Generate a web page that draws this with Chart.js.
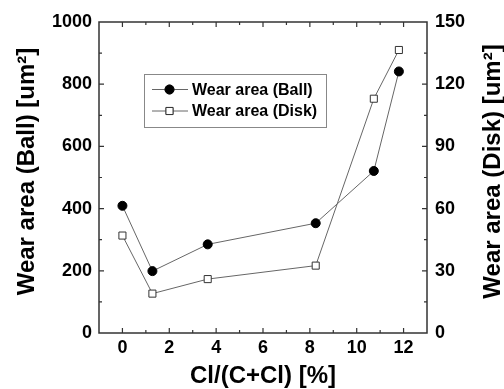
<!DOCTYPE html>
<html>
<head>
<meta charset="utf-8">
<script src="https://cdn.jsdelivr.net/npm/chart.js@4/dist/chart.umd.min.js"></script>
<style>
html,body{margin:0;padding:0;background:#ffffff;}
#wrap{position:relative;width:504px;height:389px;}
</style>
</head>
<body>
<div id="wrap"><canvas id="c" width="504" height="389"></canvas></div>
<script>
// Data
const clRatio = [0, 1.28, 3.64, 8.25, 10.73, 11.8];
const ballArea = [409, 199, 285, 353, 521, 841];
const diskArea = [47, 19, 26, 32.5, 113, 136.5];
const seriesNames = ['Wear area (Ball)', 'Wear area (Disk)'];
const xTitle = 'Cl/(C+Cl) [%]';
const yTitle = 'Wear area (Ball) [um\u00B2]';
const y2Title = 'Wear area (Disk) [um\u00B2]';

const FONT = "'Liberation Sans', Arial, sans-serif";
const LINE = '#666666';
const AXIS = '#333333';

function pts(xs, ys){ return xs.map((x,i)=>({x:x,y:ys[i]})); }

function verticalTitle(ctx, text, x, y){
  ctx.save();
  ctx.translate(x, y);
  ctx.rotate(-Math.PI / 2);
  ctx.font = 'bold 24px ' + FONT;
  ctx.fillStyle = '#000';
  ctx.textAlign = 'center';
  ctx.textBaseline = 'middle';
  ctx.fillText(text, 0, 0);
  ctx.restore();
}

const framePlugin = {
  id: 'frame',
  afterDraw(chart){
    const ctx = chart.ctx, a = chart.chartArea;
    const sx = chart.scales.x, sy = chart.scales.y, sy2 = chart.scales.y2;
    ctx.save();
    ctx.strokeStyle = AXIS;
    ctx.lineWidth = 1.5;
    ctx.strokeRect(a.left, a.top, a.right - a.left, a.bottom - a.top);
    ctx.lineWidth = 1.2;
    ctx.beginPath();
    sx.ticks.forEach(t => {
      const v = t.value;
      if (v <= sx.min || v >= sx.max) return;
      const p = sx.getPixelForValue(v);
      const len = (v % 2 === 0) ? 5 : 3;
      ctx.moveTo(p, a.bottom); ctx.lineTo(p, a.bottom - len);
      ctx.moveTo(p, a.top); ctx.lineTo(p, a.top + len);
    });
    sy.ticks.forEach(t => {
      const v = t.value;
      if (v <= sy.min || v >= sy.max) return;
      const p = sy.getPixelForValue(v);
      const len = (v % 200 === 0) ? 5 : 3;
      ctx.moveTo(a.left, p); ctx.lineTo(a.left + len, p);
    });
    sy2.ticks.forEach(t => {
      const v = t.value;
      if (v <= sy2.min || v >= sy2.max) return;
      const p = sy2.getPixelForValue(v);
      const len = (v % 30 === 0) ? 5 : 3;
      ctx.moveTo(a.right, p); ctx.lineTo(a.right - len, p);
    });
    ctx.stroke();

    const midY = (a.top + a.bottom) / 2 - 6;
    verticalTitle(ctx, yTitle, 27.5, midY);
    verticalTitle(ctx, y2Title, 493, midY);

    // legend box
    const lx = 144, ly = 74, lw = 182, lh = 53;
    ctx.fillStyle = '#ffffff';
    ctx.fillRect(lx, ly, lw, lh);
    ctx.strokeStyle = '#888888';
    ctx.lineWidth = 1;
    ctx.strokeRect(lx + 0.5, ly + 0.5, lw, lh);
    const rows = [89.5, 111];
    chart.data.datasets.forEach((ds, i) => {
      const yy = rows[i];
      ctx.strokeStyle = LINE; ctx.lineWidth = 1;
      ctx.beginPath(); ctx.moveTo(152, yy); ctx.lineTo(188, yy); ctx.stroke();
      Chart.helpers.drawPoint(ctx, {
        pointStyle: ds.pointStyle, radius: ds.pointRadius, borderWidth: ds.pointBorderWidth, rotation: 0
      }, 169.5, yy);
      ctx.fillStyle = ds.pointBackgroundColor; ctx.strokeStyle = ds.pointBorderColor;
      ctx.fill(); ctx.stroke();
      ctx.fillStyle = '#000';
      ctx.font = 'bold 16px ' + FONT;
      ctx.textAlign = 'left'; ctx.textBaseline = 'middle';
      ctx.fillText(ds.label, 192, yy + 1);
    });
    ctx.restore();
  }
};

new Chart(document.getElementById('c'), {
  type: 'line',
  data: {
    datasets: [
      {
        label: seriesNames[0],
        data: pts(clRatio, ballArea),
        yAxisID: 'y',
        borderColor: LINE, borderWidth: 1,
        pointStyle: 'circle', pointRadius: 4.5,
        pointBackgroundColor: '#000000', pointBorderColor: '#000000', pointBorderWidth: 1,
        tension: 0
      },
      {
        label: seriesNames[1],
        data: pts(clRatio, diskArea),
        yAxisID: 'y2',
        borderColor: LINE, borderWidth: 1,
        pointStyle: 'rect', pointRadius: 5,
        pointBackgroundColor: '#ffffff', pointBorderColor: '#333333', pointBorderWidth: 1,
        tension: 0
      }
    ]
  },
  options: {
    responsive: false,
    animation: false,
    devicePixelRatio: 1,
    layout: { padding: { top: 22, left: 0, right: 0, bottom: 0 } },
    plugins: { legend: { display: false }, tooltip: { enabled: false } },
    scales: {
      x: {
        type: 'linear', position: 'bottom', min: -1, max: 13,
        grid: { display: false, drawTicks: false },
        border: { display: false },
        ticks: {
          stepSize: 1, autoSkip: false, maxRotation: 0, padding: 4,
          color: '#000', font: { family: FONT, size: 18, weight: 'bold' },
          callback: v => (v % 2 === 0 && v >= 0 && v <= 12) ? String(v) : ''
        },
        title: { display: true, text: xTitle, color: '#000', padding: { top: 0, bottom: -2 },
          font: { family: FONT, size: 24, weight: 'bold' } },
        afterFit: s => { s.height = 56; }
      },
      y: {
        type: 'linear', position: 'left', min: 0, max: 1000,
        grid: { display: false, drawTicks: false },
        border: { display: false },
        ticks: {
          stepSize: 100, autoSkip: false, padding: 7,
          color: '#000', font: { family: FONT, size: 18, weight: 'bold' },
          callback: v => (v % 200 === 0) ? String(v) : ''
        },
        afterFit: s => { s.width = 99; }
      },
      y2: {
        type: 'linear', position: 'right', min: 0, max: 150,
        grid: { display: false, drawTicks: false },
        border: { display: false },
        ticks: {
          stepSize: 15, autoSkip: false, padding: 8,
          color: '#000', font: { family: FONT, size: 18, weight: 'bold' },
          callback: v => (v % 30 === 0) ? String(v) : ''
        },
        afterFit: s => { s.width = 77; }
      }
    }
  },
  plugins: [framePlugin]
});
</script>
</body>
</html>
